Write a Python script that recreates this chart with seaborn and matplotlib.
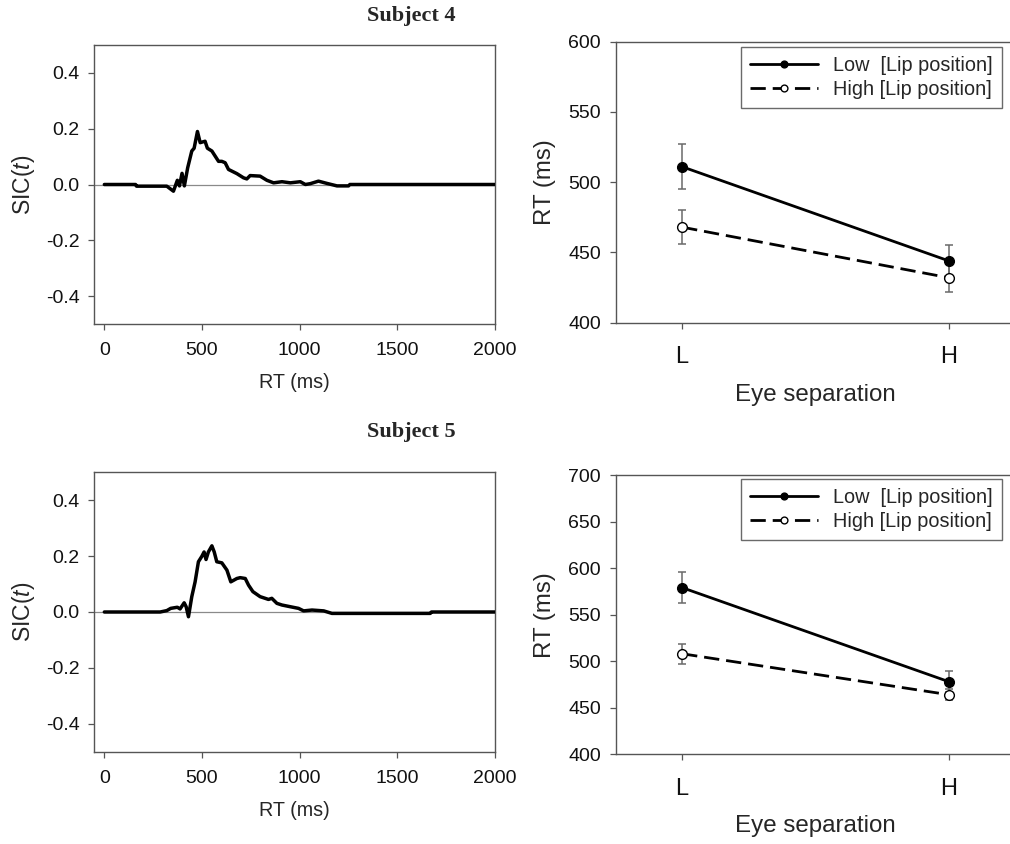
import matplotlib
matplotlib.use("Agg")
import matplotlib.pyplot as plt
import seaborn as sns

# --- SIC(t) curves -------------------------------------------------------
sub4_rt = [0, 160, 165, 320, 354, 374, 385, 398, 410, 427,
           448, 460, 477, 491, 516, 528, 551, 585, 602, 619,
           636, 679, 713, 730, 747, 798, 833, 867, 910, 953,
           1004, 1030, 1055, 1097, 1140, 1192, 1251, 1258, 2000]
sub4_sic = [0, 0, -0.006, -0.006, -0.024, 0.015, -0.005, 0.04, -0.005, 0.06,
            0.12, 0.13, 0.19, 0.15, 0.155, 0.13, 0.12, 0.083, 0.083, 0.078,
            0.054, 0.039, 0.024, 0.02, 0.032, 0.03, 0.015, 0.006, 0.01, 0.006,
            0.01, 0.0, 0.003, 0.012, 0.004, -0.005, -0.005, 0, 0]

sub5_rt = [0, 286, 320, 340, 374, 388, 409, 419, 431, 448,
           465, 482, 500, 511, 521, 533, 551, 563, 576, 602,
           628, 648, 679, 696, 722, 739, 761, 798, 841, 858,
           884, 910, 952, 995, 1021, 1064, 1124, 1166, 1670, 1676, 2000]
sub5_sic = [0, 0, 0.005, 0.013, 0.017, 0.011, 0.033, 0.019, -0.017, 0.055,
            0.108, 0.18, 0.2, 0.215, 0.188, 0.215, 0.237, 0.215, 0.18, 0.176,
            0.15, 0.108, 0.12, 0.123, 0.12, 0.096, 0.073, 0.055, 0.045, 0.049,
            0.031, 0.025, 0.019, 0.013, 0.004, 0.007, 0.004, -0.005, -0.005, 0, 0]

# --- Mean RTs by eye separation and lip position ---------------------------
eye_levels = ["L", "H"]
s4_low = [511, 444]
s4_low_err = [16, 11]
s4_high = [468, 432]
s4_high_err = [12, 10]
s5_low = [579, 478]
s5_low_err = [16.5, 11.5]
s5_high = [508, 464]
s5_high_err = [10.5, 6]

low_label = "Low  [Lip position]"
high_label = "High [Lip position]"

sns.set_style("ticks")
plt.rcParams["font.family"] = ["Liberation Sans", "DejaVu Sans"]
plt.rcParams["mathtext.fontset"] = "custom"
plt.rcParams["mathtext.rm"] = "Liberation Sans"
plt.rcParams["mathtext.it"] = "Liberation Sans:italic"

W, H = 1010, 844
fig = plt.figure(figsize=(W / 100, H / 100), dpi=100)

SPINE = "#555555"


def frac_box(left, top, right, bottom):
    return [left / W, 1 - bottom / H, (right - left) / W, (bottom - top) / H]


def style_axes(ax):
    for sp in ax.spines.values():
        sp.set_color(SPINE)
        sp.set_linewidth(1.0)
    ax.tick_params(direction="out", length=4, width=0.9, color=SPINE,
                   labelcolor="#111111")


def sic_panel(ax, rt, sic):
    ax.axhline(0, color="#8a8a8a", lw=0.9, zorder=1)
    sns.lineplot(x=rt, y=sic, ax=ax, color="black", lw=2.5,
                 estimator=None, sort=False, zorder=3)
    ax.set_xlim(-53, 2000)
    ax.set_ylim(-0.5, 0.5)
    ax.set_xticks([0, 500, 1000, 1500, 2000])
    ax.set_yticks([-0.4, -0.2, 0.0, 0.2, 0.4])
    ax.set_yticklabels(["-0.4", "-0.2", "0.0", "0.2", "0.4"])
    style_axes(ax)
    ax.tick_params(axis="x", labelsize=14, pad=9)
    ax.tick_params(axis="y", labelsize=14, pad=6.5)
    ax.set_xlabel("RT (ms)", fontsize=14.2, va="center")
    ax.xaxis.set_label_coords(0.5, -0.211)
    ax.set_ylabel("SIC($t$)", fontsize=16.5, va="center")
    ax.yaxis.set_label_coords(-0.1765, 0.5)


def rt_panel(ax, low, low_err, high, high_err, ylim, legend_top):
    xs = list(range(len(eye_levels)))
    ax.errorbar(xs, low, yerr=low_err, fmt="none", ecolor="#6a6a6a",
                elinewidth=1.1, capsize=3, capthick=1.1, zorder=2)
    ax.errorbar(xs, high, yerr=high_err, fmt="none", ecolor="#6a6a6a",
                elinewidth=1.1, capsize=3, capthick=1.1, zorder=2)
    sns.lineplot(x=xs, y=low, ax=ax, color="black", lw=2.0, marker="o",
                 markersize=7, markerfacecolor="black", markeredgecolor="black",
                 markeredgewidth=1, label=low_label, zorder=4)
    sns.lineplot(x=xs, y=high, ax=ax, color="black", lw=2.0,
                 linestyle=(0, (5.5, 2.5)), marker="o", markersize=7,
                 markerfacecolor="white", markeredgecolor="black",
                 markeredgewidth=1, label=high_label, zorder=4)
    ax.set_xlim(-0.25, 1.25)
    ax.set_ylim(*ylim)
    ax.set_xticks(xs)
    ax.set_xticklabels(eye_levels)
    ax.set_yticks(list(range(ylim[0], ylim[1] + 1, 50)))
    style_axes(ax)
    ax.tick_params(axis="y", labelsize=14, pad=6.5)
    ax.tick_params(axis="x", labelsize=17, pad=13)
    ax.set_xlabel("Eye separation", fontsize=17.4, va="center")
    ax.xaxis.set_label_coords(0.5, -0.257)
    ax.set_ylabel("RT (ms)", fontsize=17.3, va="center")
    ax.yaxis.set_label_coords(-0.176, 0.5)
    leg = ax.legend(loc="upper right",
                    bbox_to_anchor=(1002 / W, 1 - legend_top / H),
                    bbox_transform=fig.transFigure, borderaxespad=0,
                    frameon=True, fancybox=False, framealpha=1,
                    edgecolor="#6a6a6a", fontsize=14.3, handlelength=3.4,
                    handletextpad=0.8, labelspacing=0.25, borderpad=0.45,
                    markerscale=0.7)
    leg.get_frame().set_linewidth(1.0)


ax1 = fig.add_axes(frac_box(94, 45, 494.7, 324))
ax2 = fig.add_axes(frac_box(615.5, 41.7, 1015.5, 322.7))
ax3 = fig.add_axes(frac_box(94, 472.4, 494.7, 751.6))
ax4 = fig.add_axes(frac_box(615.5, 475, 1015.5, 754.3))

sic_panel(ax1, sub4_rt, sub4_sic)
sic_panel(ax3, sub5_rt, sub5_sic)
rt_panel(ax2, s4_low, s4_low_err, s4_high, s4_high_err, (400, 600), 47)
rt_panel(ax4, s5_low, s5_low_err, s5_high, s5_high_err, (400, 700), 479)

for ypix, name in [(16.5, "Subject 4"), (432, "Subject 5")]:
    fig.text(411 / W, 1 - ypix / H, name, ha="center", va="center",
             fontsize=16, fontweight="bold", family="Liberation Serif")

fig.savefig("out.png", dpi=100)
